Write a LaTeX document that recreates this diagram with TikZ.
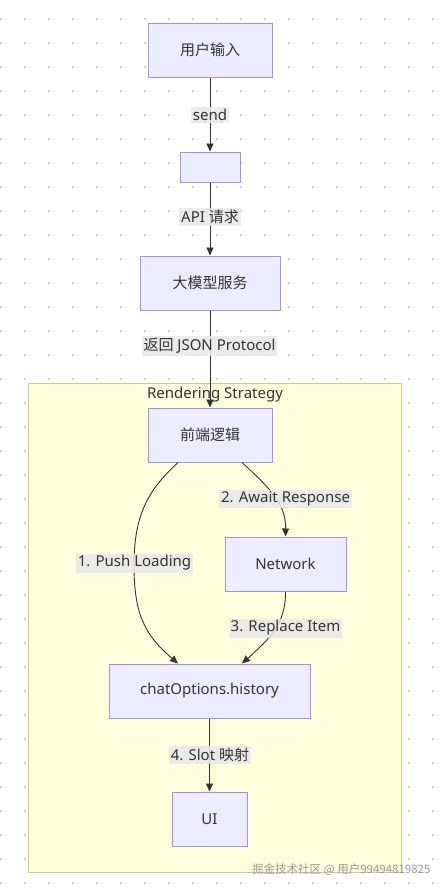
\documentclass[tikz,border=0pt]{standalone}
\usepackage{fontspec}
\setmainfont{Noto Sans}
\newfontfamily\cjk{Noto Sans CJK SC}
\usetikzlibrary{arrows.meta,calc}
\definecolor{nodefill}{HTML}{ECECFF}
\definecolor{nodeline}{HTML}{A68FE0}
\definecolor{clusfill}{HTML}{FFFFDE}
\definecolor{clusline}{HTML}{CDCD80}
\definecolor{txt}{HTML}{333333}
\definecolor{lblfill}{HTML}{E8E8E8}
\definecolor{dotc}{HTML}{D0D0D0}
\tikzset{
  x=1pt,y=1pt,
  fnode/.style={draw=nodeline,fill=nodefill,line width=1pt,inner sep=0pt,text=txt,font=\fontsize{15}{18}\selectfont},
  elabel/.style={fill=lblfill,fill opacity=0.85,text opacity=1,text=txt,inner xsep=2pt,inner ysep=2pt,font=\fontsize{15}{18}\selectfont},
  conn/.style={draw=txt,line width=0.9pt,-{Triangle[length=8pt,width=7pt]}},
}
\begin{document}
\begin{tikzpicture}
\useasboundingbox (0,0) rectangle (446,-892);
\fill[white] (0,0) rectangle (446,-892);
% dotted background
\foreach \i in {0,...,18} {
  \foreach \j in {0,...,36} {
    \fill[dotc] (1+24*\i,-19-24*\j) circle (1.3);
  }
}
% cluster
\node[draw=clusline,fill=clusfill,line width=1pt,minimum width=373,minimum height=489,inner sep=0pt,anchor=north west] (clus) at (28,-383) {};
\node[text=txt,font=\fontsize{15}{18}\selectfont] (clab) at (215,-395) {Rendering Strategy};
% nodes
\node[fnode,minimum width=124,minimum height=54] (ui1) at (210,-50) {\cjk 用户输入};
\node[fnode,minimum width=60,minimum height=30] (blank) at (210,-167) {};
\node[fnode,minimum width=140,minimum height=54] (llm) at (210,-283) {\cjk 大模型服务};
\node[fnode,minimum width=124,minimum height=54] (fe) at (210,-435) {\cjk 前端逻辑};
\node[fnode,minimum width=121,minimum height=54] (net) at (285.5,-564) {Network};
\node[fnode,minimum width=201,minimum height=54] (hist) at (209.5,-691) {chatOptions.history};
\node[fnode,minimum width=75,minimum height=54] (ui) at (209.5,-819) {UI};
% connectors
\draw[conn] (ui1.south) -- (blank.north);
\draw[conn] (blank.south) -- (llm.north);
\draw[conn] (llm.south) -- (fe.north);
\coordinate (fel) at ($(fe.south)+(-32,0)$);
\coordinate (fer) at ($(fe.south)+(32,0)$);
\coordinate (hl) at ($(hist.north)+(-31.5,0)$);
\coordinate (hr) at ($(hist.north)+(32.5,0)$);
\coordinate (pl) at (134,-565);
\draw[conn] (fel) .. controls (148,-490) and (134,-515) .. (pl) .. controls (134,-615) and (145,-635) .. (hl);
\draw[conn] (fer) .. controls (272,-490) and (286,-505) .. (net.north);
\draw[conn] (net.south) .. controls (286,-625) and (268,-640) .. (hr);
\draw[conn] (hist.south) -- (ui.north);
% edge labels
\node[elabel] (l1) at (210,-115) {send};
\node[elabel] (l2) at (210,-217) {API {\cjk 请求}};
\node[elabel] (l3) at (209.5,-346) {{\cjk 返回} JSON Protocol};
\node[elabel] (l4) at (285.5,-499) {2. Await Response};
\node[elabel] (l5) at (134.5,-563) {1. Push Loading};
\node[elabel] (l6) at (285.5,-628) {3. Replace Item};
\node[elabel] (l7) at (210,-755) {4. Slot {\cjk 映射}};
% watermark
\node[text=black!40,font=\cjk\fontsize{11.5}{13}\selectfont,anchor=east] (wm) at (434,-870) {掘金技术社区 @ 用户99494819825};
\end{tikzpicture}
\end{document}
